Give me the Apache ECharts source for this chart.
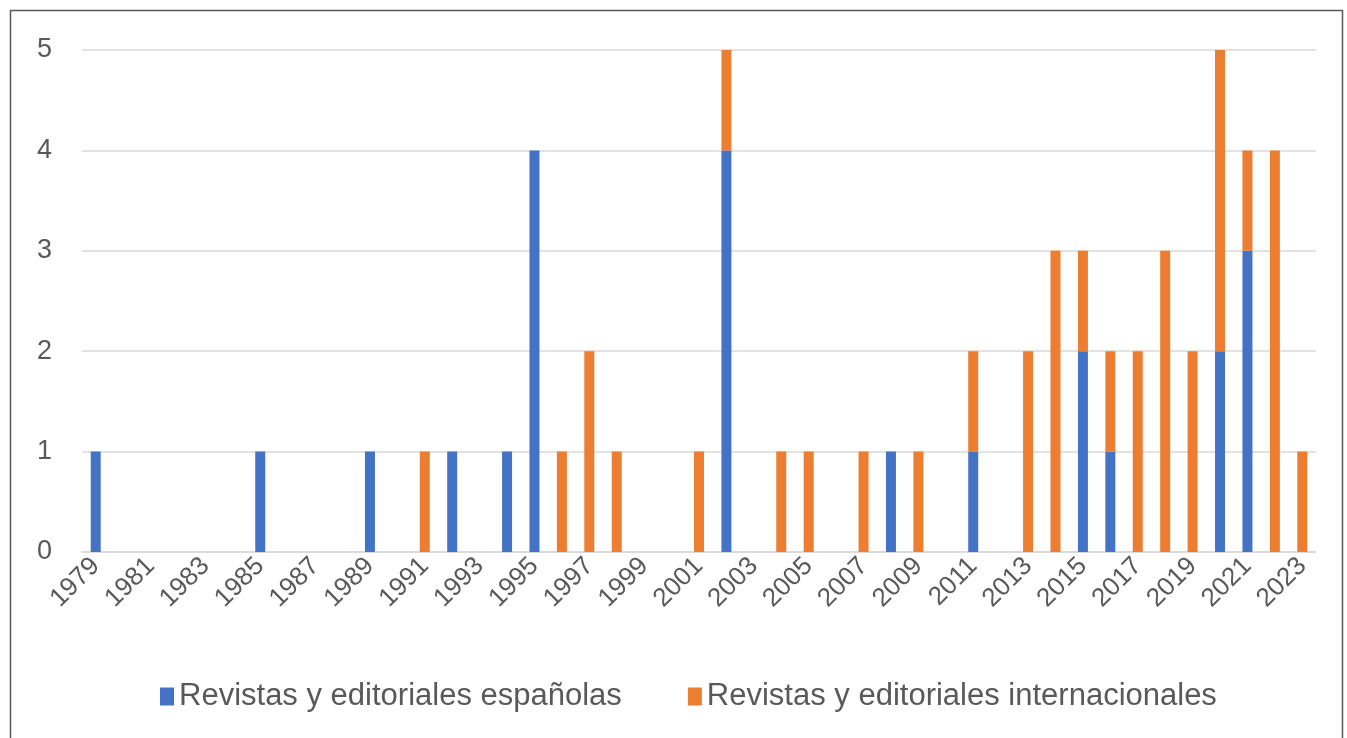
<!DOCTYPE html>
<html>
<head>
    <meta charset="utf-8">
    <title>ECharts</title>
    <script src="https://cdn.jsdelivr.net/npm/echarts@6/dist/echarts.min.js"></script>
    <style>
        html, body { margin: 0; padding: 0; background: #fff; }
    </style>
</head>
<body>
    <div id="chart" style="width: 1347px;height:738px;"></div>
    <script type="text/javascript">
        // años 1979 - 2023
        var years = [];
        for (var y = 1979; y <= 2023; y++) years.push(String(y));

        // valores por año (0 = sin barra)
        var espanolas = [
            1, 0, 0, 0, 0, 0, 1, 0, 0, 0,   // 1979-1988
            1, 0, 0, 1, 0, 1, 4, 0, 0, 0,   // 1989-1998
            0, 0, 0, 4, 0, 0, 0, 0, 0, 1,   // 1999-2008
            0, 0, 1, 0, 0, 0, 2, 1, 0, 0,   // 2009-2018
            0, 2, 3, 0, 0                   // 2019-2023
        ];
        var internacionales = [
            0, 0, 0, 0, 0, 0, 0, 0, 0, 0,
            0, 0, 1, 0, 0, 0, 0, 1, 2, 1,
            0, 0, 1, 1, 0, 1, 1, 0, 1, 0,
            1, 0, 1, 0, 2, 3, 1, 1, 2, 3,
            2, 3, 1, 4, 1
        ];
        var yTicks = [0, 1, 2, 3, 4, 5];

        var fuente = '"Liberation Sans", sans-serif';
        var gris = '#595959';

        var chart = echarts.init(document.getElementById('chart'));
        var option = {
            backgroundColor: '#fff',
            animation: false,
            textStyle: { fontFamily: fuente },
            graphic: [{
                type: 'rect',
                shape: { x: 10.5, y: 10.5, width: 1332, height: 740 },
                style: { fill: 'none', stroke: '#595959', lineWidth: 1.5 },
                silent: true
            }],
            grid: { left: 82, right: 31, top: 50, bottom: 186 },
            legend: {
                top: 676,
                left: 155,
                itemWidth: 14,
                itemHeight: 18,
                itemGap: 66,
                icon: 'rect',
                textStyle: { color: gris, fontSize: 31, fontFamily: fuente }
            },
            xAxis: {
                type: 'category',
                data: years,
                axisTick: { show: false },
                axisLine: { lineStyle: { color: '#d9d9d9', width: 1.5 } },
                axisLabel: {
                    interval: 1,
                    rotate: 45,
                    color: gris,
                    fontSize: 26,
                    fontFamily: fuente,
                    margin: 10
                }
            },
            yAxis: {
                type: 'value',
                min: yTicks[0],
                max: yTicks[yTicks.length - 1],
                interval: 1,
                axisLine: { show: false },
                axisTick: { show: false },
                axisLabel: { color: gris, fontSize: 27, fontFamily: fuente, margin: 30 },
                splitLine: { lineStyle: { color: '#d9d9d9', width: 1.5 } }
            },
            series: [
                {
                    name: 'Revistas y editoriales españolas',
                    type: 'bar',
                    stack: 'total',
                    barWidth: 10,
                    itemStyle: { color: '#4472C4' },
                    data: espanolas
                },
                {
                    name: 'Revistas y editoriales internacionales',
                    type: 'bar',
                    stack: 'total',
                    barWidth: 10,
                    itemStyle: { color: '#ED7D31' },
                    data: internacionales
                }
            ]
        };
        chart.setOption(option);
    </script>
</body>
</html>
